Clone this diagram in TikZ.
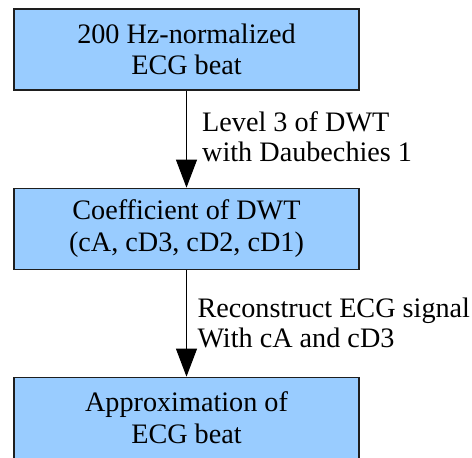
\documentclass[tikz,border=0pt]{standalone}
\usepackage{fontspec}
\setmainfont{Liberation Serif}
\usetikzlibrary{arrows.meta}
\definecolor{boxblue}{RGB}{153,204,255}
\definecolor{boxline}{RGB}{30,30,30}
\begin{document}
\begin{tikzpicture}[x=1pt,y=-1pt,
  stepbox/.style={draw=boxline,line width=1.3pt,fill=boxblue,minimum width=345pt,minimum height=81pt,inner sep=0pt,align=center,font=\fontsize{28.2}{31.5}\selectfont},
  flow/.style={line width=1pt,-{Triangle[length=28pt,width=21pt]}},
  lab/.style={align=left,inner sep=0pt,font=\fontsize{28.2}{30}\selectfont}]
\useasboundingbox (0,0) rectangle (472,458);
\node[stepbox] (b1) at (186.5,49.6) {200 Hz-normalized\\ECG beat};
\node[stepbox] (b2) at (186.5,228.8) {Coefficient of DWT\\(cA, cD3, cD2, cD1)};
\node[stepbox] (b3) at (186.5,417.8) {Approximation of\\ECG beat};
\draw[flow] (b1) -- (b2);
\draw[flow] (b2) -- (b3);
\node[lab,anchor=north west] (l1) at (202,111.4) {Level 3 of DWT\\with Daubechies 1};
\node[lab,anchor=north west] (l2) at (197.3,297.4) {Reconstruct ECG signal\\With cA and cD3};
\end{tikzpicture}
\end{document}
